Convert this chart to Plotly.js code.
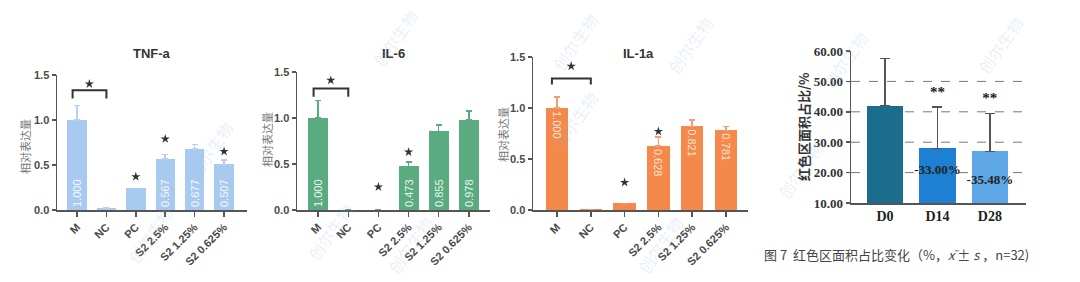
<!DOCTYPE html>
<html><head><meta charset="utf-8">
<script src="https://cdn.plot.ly/plotly-3.0.1.min.js"></script>
<style>html,body{margin:0;padding:0;background:#fff}#chart{width:1080px;height:282px}</style>
</head><body><div id="chart"></div>
<script>
// ---------- data ----------
const categories = ['M','NC','PC','S2 2.5%','S2 1.25%','S2 0.625%'];
const tnfValues  = [1.000, 0.020, 0.240, 0.567, 0.677, 0.507];
const tnfErrors  = [0.16, 0.010, 0.000, 0.05, 0.05, 0.05];
const tnfLabels  = ['1.000','','','0.567','0.677','0.507'];
const tnfStarX   = ['PC','S2 2.5%','S2 0.625%'];
const tnfStarY   = [0.37, 0.79, 0.65];

const il6Values  = [1.000, 0.000, 0.005, 0.473, 0.855, 0.978];
const il6Errors  = [0.19, 0.000, 0.000, 0.05, 0.07, 0.10];
const il6Labels  = ['1.000','','','0.473','0.855','0.978'];
const il6StarX   = ['PC','S2 2.5%'];
const il6StarY   = [0.25, 0.63];

const il1aValues = [1.000, 0.005, 0.065, 0.628, 0.821, 0.781];
const il1aErrors = [0.11, 0.000, 0.000, 0.09, 0.06, 0.04];
const il1aLabels = ['1.000','','','0.628','0.821','0.781'];
const il1aStarX  = ['PC','S2 2.5%'];
const il1aStarY  = [0.27, 0.77];

// significance bracket M vs NC (x in category index, y in data units)
const bracketX   = [-0.15, -0.15, 1.0, 1.0];
const tnfBracketY  = [1.24, 1.33, 1.33, 1.24];
const il6BracketY  = [1.23, 1.32, 1.32, 1.23];
const il1aBracketY = [1.23, 1.29, 1.29, 1.23];
const bracketStarX = [0.42];
const tnfBracketStarY  = [1.40];
const il6BracketStarY  = [1.41];
const il1aBracketStarY = [1.41];

const days       = ['D0','D14','D28'];
const areaValues = [42.0, 28.0, 27.0];
const areaErrors = [15.5, 13.5, 12.5];
const areaStarY  = [null, 46.2, 44.2];
const areaStars  = ['', '**', '**'];
const changeLabels = ['', '-33.00%', '-35.48%'];
const changeLabelY = [null, 20.6, 17.2];
const areaGridValues = [20, 30, 40, 50];

// ---------- helpers ----------
const W = 1080, H = 282;
const dx = (a,b) => [a/W, b/W];
const dy = (top,bottom) => [1-bottom/H, 1-top/H];
const idx = arr => arr.map(c => categories.indexOf(c));
const zeros = arr => arr.map(() => 0);

const sansBold = {family:'"Liberation Sans", Arial, sans-serif', size:11, color:'#4a4a4a', weight:'bold'};
const serifBold = {family:'"Liberation Serif", "Times New Roman", serif', size:13, color:'#333', weight:'bold'};

const traces = [];
function panel(n, vals, errs, labels, color, errColor, txtAngle, anchor, starX, starY, brY, brStarY, txtColor){
  const xa = 'x'+(n===1?'':n), ya = 'y'+(n===1?'':n);
  const xi = categories.map((c,i)=>i);
  traces.push({type:'bar', x:xi, y:vals, width:0.66, xaxis:xa, yaxis:ya,
    marker:{color:color, line:{width:0}},
    error_y:{type:'data', symmetric:false, array:errs, arrayminus:zeros(errs), visible:true, color:errColor, thickness:1.5, width:3},
    text:labels, textposition:'inside', textangle:txtAngle, insidetextanchor:anchor,
    insidetextfont:{family:'"Liberation Sans", Arial, sans-serif', size:11, color:txtColor},
    constraintext:'none', cliponaxis:false, hoverinfo:'skip', showlegend:false});
  traces.push({type:'scatter', mode:'markers', x:idx(starX), y:starY, xaxis:xa, yaxis:ya,
    marker:{symbol:'star', size:7, color:'#333'}, showlegend:false, hoverinfo:'skip', cliponaxis:false});
  traces.push({type:'scatter', mode:'lines', x:bracketX, y:brY, xaxis:xa, yaxis:ya,
    line:{color:'#333', width:2}, showlegend:false, hoverinfo:'skip', cliponaxis:false});
  traces.push({type:'scatter', mode:'markers', x:bracketStarX, y:brStarY, xaxis:xa, yaxis:ya,
    marker:{symbol:'star', size:7, color:'#333'}, showlegend:false, hoverinfo:'skip', cliponaxis:false});
}
panel(1, tnfValues, tnfErrors, tnfLabels, '#a9caf0', '#b5d0f0', -90, 'start', tnfStarX, tnfStarY, tnfBracketY, tnfBracketStarY, 'rgba(255,255,255,0.9)');
panel(2, il6Values, il6Errors, il6Labels, '#5bab80', '#5bab80', -90, 'start', il6StarX, il6StarY, il6BracketY, il6BracketStarY, 'rgba(255,255,255,0.9)');
panel(3, il1aValues, il1aErrors, il1aLabels, '#f5894c', '#f0a070', 90, 'end', il1aStarX, il1aStarY, il1aBracketY, il1aBracketStarY, 'rgba(255,235,220,0.95)');

// panel 4
traces.push({type:'bar', x:days, y:areaValues, width:0.69, xaxis:'x4', yaxis:'y4',
  marker:{color:['#1b6d8e','#1e80d2','#5ea7e7'], line:{width:0}},
  error_y:{type:'data', symmetric:false, array:areaErrors, arrayminus:zeros(areaErrors), visible:true, color:'#555', thickness:1.5, width:5},
  hoverinfo:'skip', showlegend:false});
traces.push({type:'scatter', mode:'text', x:days, y:areaStarY, text:areaStars, xaxis:'x4', yaxis:'y4',
  textfont:{family:'"Liberation Serif", serif', size:15, color:'#222', weight:'bold'}, showlegend:false, hoverinfo:'skip', cliponaxis:false});
traces.push({type:'scatter', mode:'text', x:days, y:changeLabelY, text:changeLabels, xaxis:'x4', yaxis:'y4',
  textfont:{family:'"Liberation Serif", serif', size:13, color:'#222', weight:'bold'}, showlegend:false, hoverinfo:'skip', cliponaxis:false});

function catAxis(domain, range){
  return {domain:domain, range:range, tickmode:'array', tickvals:categories.map((c,i)=>i), ticktext:categories,
    tickangle:-45, tickfont:sansBold, showline:true, linecolor:'#555', linewidth:1.5,
    ticks:'outside', ticklen:5, tickwidth:1.5, tickcolor:'#555', showgrid:false, zeroline:false, fixedrange:true};
}
function valAxis(domain, anchor){
  return {domain:domain, anchor:anchor, range:[0,1.5], dtick:0.5, tickformat:'.1f', tickfont:sansBold,
    showline:true, linecolor:'#555', linewidth:1.5, ticks:'outside', ticklen:4, tickwidth:1.5, tickcolor:'#555',
    showgrid:false, zeroline:false, fixedrange:true};
}
const ann = (text, px, py, font, extra) => Object.assign({text:text, x:px/W, y:1-py/H, xref:'paper', yref:'paper',
  xanchor:'center', yanchor:'middle', showarrow:false, font:font}, extra||{});

const layout = {
  width:W, height:H, margin:{l:0,r:0,t:0,b:0}, paper_bgcolor:'#fff', plot_bgcolor:'rgba(0,0,0,0)',
  bargap:0, showlegend:false,
  xaxis: Object.assign(catAxis(dx(57,247), [-0.68,5.78]), {anchor:'y'}),
  yaxis: valAxis(dy(75,210), 'x'),
  xaxis2: Object.assign(catAxis(dx(297,490), [-0.7,5.7]), {anchor:'y2'}),
  yaxis2: valAxis(dy(72,210), 'x2'),
  xaxis3: Object.assign(catAxis(dx(533,748), [-0.71,5.65]), {anchor:'y3'}),
  yaxis3: valAxis(dy(57,210), 'x3'),
  xaxis4: {domain:dx(851,1026), anchor:'y4', range:[-0.65,2.69], type:'category', tickmode:'array', tickvals:days, ticktext:days,
    tickfont:{family:'"Liberation Serif", serif', size:14, color:'#222', weight:'bold'},
    showline:true, linecolor:'#555', linewidth:1.5, ticks:'', showgrid:false, zeroline:false, fixedrange:true},
  yaxis4: {domain:dy(51,203), anchor:'x4', range:[10,60], dtick:10, tickformat:'.2f', tickfont:serifBold,
    showline:true, linecolor:'#555', linewidth:1.5, ticks:'outside', ticklen:4, tickwidth:1.5, tickcolor:'#555',
    showgrid:false, zeroline:false, fixedrange:true},
  shapes: areaGridValues.map(v => ({type:'line', xref:'x4 domain', yref:'y4', x0:0, x1:1, y0:v, y1:v,
    line:{color:'#777', width:1, dash:'dash'}, layer:'below'})),
  annotations: [
    ann('<b>TNF-a</b>', 152, 54, {family:'"Liberation Sans", Arial', size:13, color:'#333'}),
    ann('<b>IL-6</b>', 393, 53, {family:'"Liberation Sans", Arial', size:13, color:'#333'}),
    ann('<b>IL-1a</b>', 638, 53, {family:'"Liberation Sans", Arial', size:13, color:'#333'}),
    ann('相对表达量', 25, 147, {family:'"Noto Sans CJK SC"', size:11, color:'#777'}, {textangle:-90}),
    ann('相对表达量', 267, 140, {family:'"Noto Sans CJK SC"', size:11, color:'#777'}, {textangle:-90}),
    ann('相对表达量', 503, 135, {family:'"Noto Sans CJK SC"', size:11, color:'#777'}, {textangle:-90}),
    ann('<b>红色区面积占比/%</b>', 803, 127, {family:'"Noto Sans CJK SC"', size:13, color:'#333'}, {textangle:-90}),
    ann('图 7  红色区面积占比变化（%，<i>x̄</i> ± <i>s</i> ，n=32)', 762, 254, {family:'"Noto Sans CJK SC"', size:13, color:'#444'}, {xanchor:'left'})
  ]
};
// faint watermarks
const wm = [[395,38],[575,42],[690,45],[1000,45],[845,60],[150,235],[330,232],[410,245],[660,245],[210,150],[575,120],[800,170]];
wm.forEach(p => layout.annotations.push(ann('创尔生物', p[0], p[1], {family:'"Noto Sans CJK SC"', size:16, color:'rgba(150,180,225,0.22)'}, {textangle:-55})));

Plotly.newPlot('chart', traces, layout, {staticPlot:true, displayModeBar:false});
</script></body></html>
